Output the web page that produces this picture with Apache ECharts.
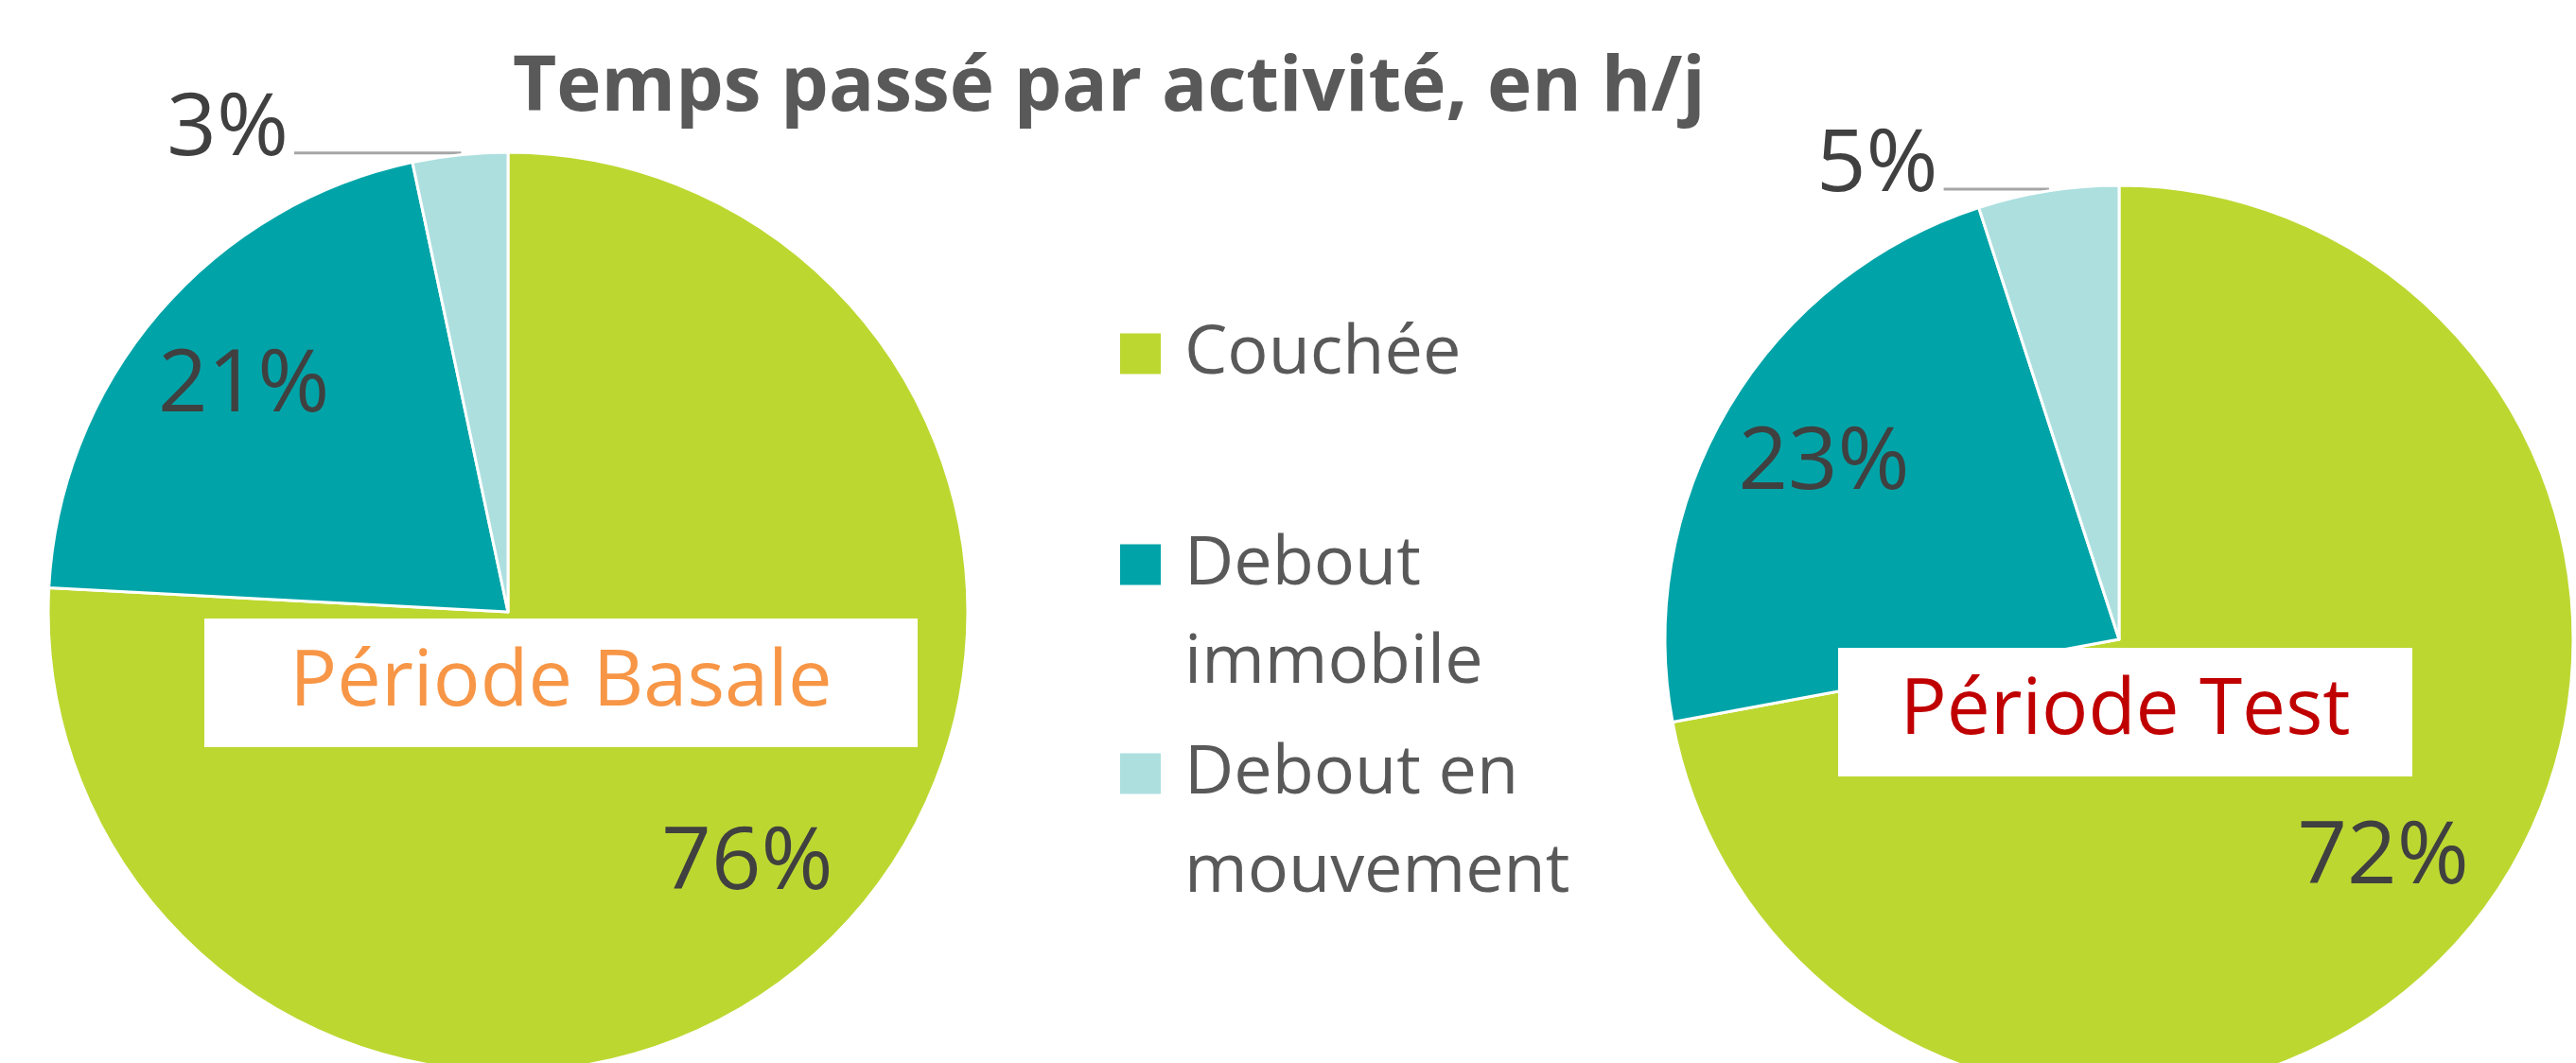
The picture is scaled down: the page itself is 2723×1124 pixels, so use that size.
<!DOCTYPE html>
<html>
<head>
<meta charset="utf-8">
<script src="https://cdn.jsdelivr.net/npm/echarts@6/dist/echarts.min.js"></script>
<style>
html, body { margin: 0; padding: 0; background: #fff; }
#main { width: 2723px; height: 1124px; }
</style>
</head>
<body>
<div id="main"></div>
<script>
// categories / couleurs
var categories = ['Couchée', 'Debout immobile', 'Debout en mouvement'];
// ligne vide en tete : garde la 1re ligne au niveau du carre
var legendText = ['Couchée', '\nDebout\nimmobile', '\nDebout en\nmouvement'];
var colors = ['#BDD731', '#00A4A8', '#ADDFDF'];

// temps en h/j
var basale = [18.2, 5.0, 0.8];
var test = [17.3, 5.5, 1.2];

var FONT = '"Open Sans", "Noto Sans", sans-serif';

function pieData(values, lineLen) {
	var d = [];
	for (var i = 0; i < values.length; i++) {
		var item = { name: categories[i], value: values[i], itemStyle: { color: colors[i] } };
		if (i === 2) {
			item.label = { show: true };
			item.labelLine = { show: true, length: 2, length2: lineLen };
		}
		d.push(item);
	}
	return d;
}

// serie invisible, uniquement pour placer les % a l'interieur
function labelData(values) {
	var d = [];
	for (var i = 0; i < values.length; i++) {
		d.push({ name: categories[i], value: values[i], label: { show: i !== 2 } });
	}
	return d;
}

function mainPie(center, r, values, lineLen) {
	return {
		type: 'pie',
		center: center,
		radius: [0, r],
		startAngle: 90,
		clockwise: true,
		avoidLabelOverlap: false,
		percentPrecision: 0,
		animation: false,
		itemStyle: { borderColor: '#fff', borderWidth: 3 },
		emphasis: { disabled: true },
		label: {
			show: false,
			position: 'outside',
			// ligne vide en dessous : le texte remonte au-dessus du trait
			formatter: '{d}%\n ',
			fontFamily: FONT,
			fontSize: 92,
			lineHeight: 48,
			color: '#404040',
			distanceToLabelLine: 6
		},
		labelLine: {
			show: false,
			lineStyle: { color: '#A6A6A6', width: 3 }
		},
		data: pieData(values, lineLen)
	};
}

function labelPie(center, r, values) {
	return {
		type: 'pie',
		center: center,
		radius: [0, r * 1.5],
		startAngle: 90,
		clockwise: true,
		silent: true,
		percentPrecision: 0,
		animation: false,
		itemStyle: { color: 'rgba(0,0,0,0)', borderWidth: 0 },
		label: {
			position: 'inside',
			formatter: '{d}%',
			fontFamily: FONT,
			fontSize: 92,
			color: '#404040'
		},
		labelLine: { show: false },
		data: labelData(values)
	};
}

function legendItem(i, top) {
	return {
		orient: 'vertical',
		left: 1184,
		top: top,
		padding: 0,
		itemWidth: 43,
		itemHeight: 43,
		icon: 'rect',
		selectedMode: false,
		itemStyle: { borderWidth: 0 },
		textStyle: {
			fontFamily: FONT,
			fontSize: 72,
			lineHeight: 104,
			color: '#595959',
			padding: [0, 0, 0, 20]
		},
		formatter: function () { return legendText[i]; },
		data: [{ name: categories[i], itemStyle: { color: colors[i] } }]
	};
}

function periodBox(x, y, w, h, text, color, size) {
	return {
		type: 'group',
		z: 100,
		children: [
			{ type: 'rect', shape: { x: x, y: y, width: w, height: h }, style: { fill: '#fff' }, z: 100 },
			{
				type: 'text', z: 101,
				style: {
					text: text, x: x + w / 2, y: y + h / 2,
					font: size + 'px ' + FONT, fill: color,
					align: 'center', verticalAlign: 'middle',
					textAlign: 'center', textVerticalAlign: 'middle'
				}
			}
		]
	};
}

var option = {
	backgroundColor: '#fff',
	title: {
		text: 'Temps passé par activité, en h/j',
		left: 542,
		top: 54,
		padding: 0,
		textStyle: { fontFamily: FONT, fontSize: 80, fontWeight: 'bold', color: '#595959', lineHeight: 80 }
	},
	legend: [
		legendItem(0, 322),
		legendItem(1, 441),
		legendItem(2, 662)
	],
	series: [
		mainPie([537, 647], 486, basale, 175),
		mainPie([2240, 676], 480, test, 110),
		labelPie([537, 647], 486, basale),
		labelPie([2240, 676], 480, test)
	],
	graphic: [
		periodBox(216, 654, 754, 136, 'Période Basale', '#F79646', 83),
		periodBox(1943, 685, 607, 136, 'Période Test', '#C00000', 82)
	]
};

var myChart = echarts.init(document.getElementById('main'));
myChart.setOption(option);
</script>
</body>
</html>
